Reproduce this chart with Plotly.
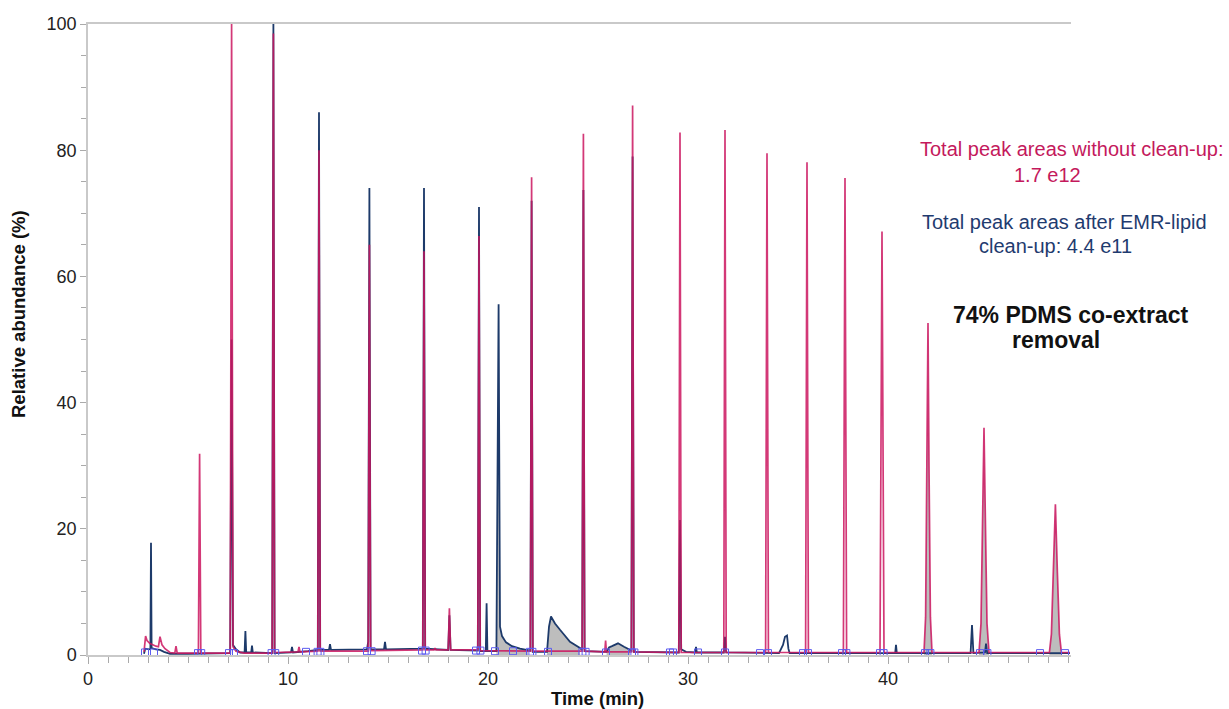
import plotly.graph_objects as go

# Chromatogram vertices (retention time in min, relative abundance in %)
# Sample extract without clean-up
PINK_POINTS = [
    (2.80, 0.5), (2.88, 3.0), (2.95, 2.3), (3.10, 1.8), (3.40, 1.4), (3.52, 1.3),
    (3.60, 2.9), (3.70, 1.6), (3.85, 1.0), (4.10, 0.4), (4.34, 0.3), (4.40, 1.4), (4.46, 0.3),
    (5.52, 0.3), (5.58, 31.9), (5.64, 0.3),
    (7.11, 0.3), (7.18, 100.0), (7.25, 1.3), (7.40, 0.6), (7.80, 0.3),
    (9.21, 0.3), (9.27, 98.5), (9.33, 0.4),
    (10.50, 0.5), (10.55, 1.3), (10.60, 0.5),
    (11.49, 0.6), (11.55, 80.0), (11.61, 0.6),
    (14.01, 0.6), (14.07, 65.0), (14.13, 0.7),
    (16.74, 0.8), (16.80, 64.0), (16.86, 0.8),
    (17.30, 0.8), (17.35, 1.1), (17.40, 0.8),
    (18.01, 0.8), (18.07, 7.4), (18.13, 0.8),
    (19.49, 0.8), (19.55, 66.4), (19.61, 0.7),
    (22.12, 0.6), (22.18, 75.7), (22.24, 0.6),
    (24.71, 0.6), (24.77, 82.6), (24.83, 0.6),
    (25.84, 0.5), (25.88, 2.3), (25.92, 0.5),
    (27.17, 0.5), (27.23, 87.1), (27.29, 0.5),
    (29.54, 0.4), (29.60, 82.8), (29.66, 0.4),
    (31.79, 0.4), (31.85, 83.2), (31.91, 0.4),
    (33.88, 0.4), (33.95, 79.5), (34.02, 0.4),
    (35.88, 0.4), (35.95, 78.1), (36.02, 0.4),
    (37.77, 0.4), (37.85, 75.6), (37.93, 0.4),
    (39.60, 0.4), (39.70, 67.1), (39.80, 0.4),
    (41.80, 0.4), (41.88, 6.0), (41.95, 30.0), (42.00, 52.6), (42.05, 30.0), (42.12, 6.0), (42.20, 0.4),
    (44.55, 0.4), (44.65, 5.0), (44.72, 19.0), (44.80, 36.0), (44.88, 19.0), (44.95, 5.0), (45.05, 0.4),
    (48.07, 0.4), (48.17, 3.3), (48.27, 13.0), (48.37, 23.9), (48.47, 13.0), (48.57, 3.3), (48.67, 0.4),
    (49.10, 0.4),
]

# Sample extract after EMR-lipid clean-up
NAVY_POINTS = [
    (2.80, 0.2), (2.86, 1.0), (3.05, 0.9), (3.12, 1.0), (3.15, 17.8), (3.18, 1.1),
    (3.40, 0.9), (3.60, 0.8), (3.80, 0.5), (4.10, 0.2), (5.00, 0.2),
    (7.11, 0.3), (7.18, 50.0), (7.25, 1.6), (7.40, 0.9), (7.60, 0.4),
    (7.83, 0.4), (7.87, 3.8), (7.91, 0.4),
    (8.16, 0.4), (8.20, 1.5), (8.24, 0.4),
    (9.21, 0.3), (9.27, 100.0), (9.33, 0.3),
    (10.15, 0.4), (10.20, 1.3), (10.25, 0.4),
    (11.00, 0.6), (11.49, 0.8), (11.55, 86.0), (11.61, 0.8),
    (12.05, 0.8), (12.10, 1.7), (12.15, 0.8),
    (13.95, 0.9), (14.01, 2.1), (14.07, 74.0), (14.13, 0.9),
    (14.80, 0.9), (14.85, 2.1), (14.90, 0.9),
    (16.74, 1.0), (16.80, 74.0), (16.86, 1.0),
    (18.01, 0.8), (18.07, 6.3), (18.13, 0.8),
    (19.49, 0.7), (19.55, 71.0), (19.61, 0.6),
    (19.89, 0.6), (19.93, 8.2), (19.97, 0.6),
    (20.42, 0.6), (20.53, 55.6), (20.60, 4.5), (20.70, 3.0), (20.90, 2.0),
    (21.20, 1.4), (21.60, 1.0), (22.00, 0.7),
    (22.12, 0.7), (22.18, 72.0), (22.24, 0.5),
    (22.95, 0.5), (23.05, 4.5), (23.15, 6.1), (23.35, 5.0), (23.60, 4.0),
    (24.10, 2.1), (24.60, 1.1),
    (24.71, 0.8), (24.77, 73.7), (24.83, 0.6),
    (25.93, 0.5), (26.05, 1.2), (26.20, 1.4), (26.50, 1.85), (26.80, 1.3), (27.10, 0.8),
    (27.17, 0.7), (27.23, 79.0), (27.29, 0.5),
    (29.54, 0.4), (29.60, 21.4), (29.66, 0.9), (29.90, 0.5),
    (30.36, 0.4), (30.40, 1.3), (30.44, 0.4),
    (31.79, 0.4), (31.85, 2.9), (31.91, 0.4),
    (34.55, 0.3), (34.75, 1.6), (34.85, 2.9), (34.95, 3.1), (35.02, 1.0), (35.08, 0.3),
    (40.36, 0.3), (40.40, 1.6), (40.44, 0.3),
    (44.13, 0.3), (44.20, 4.75), (44.27, 0.3),
    (44.85, 0.4), (44.90, 1.8), (44.96, 0.3),
    (49.10, 0.3),
]

# Integrated (shaded) windows, start/end in min
PINK_INTEGRATED = [(41.80, 42.20), (44.55, 45.05), (48.07, 48.67)]
NAVY_INTEGRATED = [(20.42, 22.00), (22.95, 24.60), (25.93, 27.10)]

# Integration boundary markers (min, %)
BOUNDARY_MARKS = [
    (2.85, 0.4), (3.30, 0.4), (5.50, 0.3), (5.66, 0.3), (7.05, 0.3), (7.30, 0.3),
    (9.18, 0.3), (9.36, 0.3), (10.90, 0.5), (11.48, 0.5), (11.62, 0.5),
    (13.95, 0.6), (14.18, 0.6), (16.70, 0.7), (16.88, 0.7), (19.40, 0.7), (19.62, 0.7),
    (20.35, 0.6), (21.25, 0.6), (22.10, 0.5), (22.22, 0.5), (23.00, 0.5),
    (24.72, 0.5), (24.88, 0.5), (25.90, 0.4), (27.20, 0.4), (27.32, 0.4),
    (29.10, 0.4), (29.25, 0.4), (30.50, 0.4), (31.85, 0.4), (33.60, 0.3), (34.00, 0.3),
    (35.75, 0.3), (36.00, 0.3), (37.70, 0.3), (37.92, 0.3), (39.60, 0.3), (39.78, 0.3),
    (41.85, 0.3), (42.12, 0.3), (44.60, 0.3), (44.97, 0.3), (47.60, 0.3), (48.85, 0.3),
]

PINK = "#CC1660"
NAVY = "#1D3A6A"
FILL_GREY = "#BDBDBD"
AXIS_GREY = "#C9C9C9"
FONT = "Liberation Sans, Arial, sans-serif"


def unzip(points):
    return [p[0] for p in points], [p[1] for p in points]


fig = go.Figure()

# Grey shading under integrated peaks
for points, windows, colour in ((NAVY_POINTS, NAVY_INTEGRATED, NAVY),
                                (PINK_POINTS, PINK_INTEGRATED, PINK)):
    for start, end in windows:
        seg = [p for p in points if start <= p[0] <= end]
        xs, ys = unzip(seg)
        fig.add_trace(go.Scatter(x=xs, y=ys, mode="lines", fill="tozeroy",
                                 fillcolor=FILL_GREY, line=dict(width=0),
                                 hoverinfo="skip", showlegend=False))

nx, ny = unzip(NAVY_POINTS)
fig.add_trace(go.Scatter(x=nx, y=ny, mode="lines", name="After EMR-lipid",
                         line=dict(color=NAVY, width=1.8), showlegend=False))

px_, py_ = unzip(PINK_POINTS)
fig.add_trace(go.Scatter(x=px_, y=py_, mode="lines", name="Without clean-up",
                         line=dict(color=PINK, width=1.7), opacity=0.85,
                         showlegend=False))

mx, my = unzip(BOUNDARY_MARKS)
fig.add_trace(go.Scatter(x=mx, y=my, mode="markers", showlegend=False,
                         marker=dict(symbol="square-open", size=7,
                                     color="#5C5CF0", line=dict(width=1)),
                         hoverinfo="skip"))

L, R, T, B = 88, 158, 24, 54
W, H = 1229, 709
pw, ph = W - L - R, H - T - B


def paper_x(px):
    return (px - L) / pw


def paper_y(py):
    return (H - B - py) / ph


notes = [
    ("Total peak areas without clean-up:", 1072, 149, "#C4195C", 20, False),
    ("1.7 e12", 1047, 175, "#C4195C", 20, False),
    ("Total peak areas after EMR-lipid", 1064, 222, "#1F3B6F", 20, False),
    ("clean-up: 4.4 e11", 1055, 246, "#1F3B6F", 20, False),
    ("74% PDMS co-extract", 1071, 315, "#111111", 23, True),
    ("removal", 1056, 340, "#111111", 23, True),
]
for text, x, y, colour, size, bold in notes:
    fig.add_annotation(x=paper_x(x), y=paper_y(y), xref="paper", yref="paper",
                       text=f"<b>{text}</b>" if bold else text, showarrow=False,
                       xanchor="center", yanchor="middle",
                       font=dict(family=FONT, size=size, color=colour))

# Axis titles
fig.add_annotation(x=paper_x(597), y=paper_y(698), xref="paper", yref="paper",
                   text="<b>Time (min)</b>", showarrow=False,
                   xanchor="center", yanchor="middle",
                   font=dict(family=FONT, size=18.5, color="#111111"))
fig.add_annotation(x=paper_x(18), y=paper_y(314), xref="paper", yref="paper",
                   text="<b>Relative abundance (%)</b>", showarrow=False,
                   textangle=-90, xanchor="center", yanchor="middle",
                   font=dict(family=FONT, size=18.5, color="#111111"))

fig.update_layout(
    width=W, height=H, autosize=False,
    margin=dict(l=L, r=R, t=T, b=B, pad=0),
    paper_bgcolor="white", plot_bgcolor="white",
    font=dict(family=FONT, size=18, color="#222222"),
    xaxis=dict(range=[0, 49.15], showgrid=False, zeroline=False,
               showline=True, linecolor=AXIS_GREY, linewidth=1.5, mirror=True,
               ticks="outside", ticklen=7, tickcolor="#AAAAAA", dtick=10, tick0=0,
               minor=dict(dtick=1, ticks="outside", ticklen=6, tickcolor="#AAAAAA"),
               tickfont=dict(size=18, family=FONT, color="#222222")),
    yaxis=dict(range=[0, 100], showgrid=False, zeroline=False,
               showline=True, linecolor=AXIS_GREY, linewidth=1.5,
               ticks="outside", ticklen=6, tickcolor="#AAAAAA", dtick=20, tick0=0,
               minor=dict(dtick=5, ticks="outside", ticklen=5, tickcolor="#AAAAAA"),
               tickfont=dict(size=18, family=FONT, color="#222222")),
)

fig.write_html("out.html")
